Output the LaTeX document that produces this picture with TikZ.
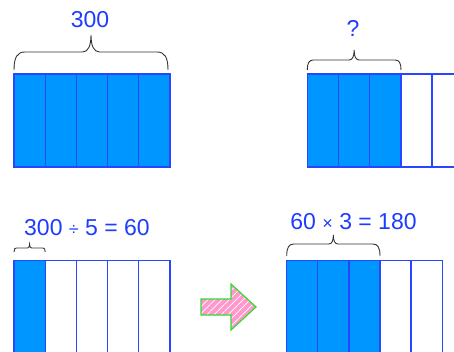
\documentclass[tikz,border=0pt]{standalone}
\usepackage{fontspec}
\setmainfont{Liberation Sans}
\usetikzlibrary{patterns.meta,calc}

\definecolor{barblue}{RGB}{0,150,255}
\definecolor{lineblue}{RGB}{40,70,255}
\definecolor{textblue}{RGB}{30,60,255}
\definecolor{arrowpink}{RGB}{255,153,204}
\definecolor{arrowgreen}{RGB}{50,220,50}

\tikzset{
  cell/.style={draw=lineblue,line width=1.3pt},
  shaded/.style={cell,fill=barblue},
  numtext/.style={text=textblue,font=\fontsize{23}{25}\selectfont,inner sep=0pt},
  bracket/.style={draw=black!80,line width=0.9pt},
}

% brace over a bar: left x, right x, bottom y, flat y, tip y
\newcommand{\partbrace}[5]{%
  \pgfmathsetmacro{\bend}{0.6*(#3-#4)}
  \pgfmathsetmacro{\bmid}{(#1+#2)/2}
  \pgfmathsetmacro{\btip}{0.5*(#4-#5)}
  \draw[bracket] (#1,#3) .. controls (#1,{#4+0.3*(#3-#4)}) and ({#1+0.3*\bend},#4) .. ({#1+\bend},#4)
    -- ({\bmid-\btip},#4) .. controls ({\bmid-0.3*\btip},#4) and (\bmid,{#4-0.4*(#4-#5)}) .. (\bmid,#5)
    .. controls (\bmid,{#4-0.4*(#4-#5)}) and ({\bmid+0.3*\btip},#4) .. ({\bmid+\btip},#4)
    -- ({#2-\bend},#4) .. controls ({#2-0.3*\bend},#4) and (#2,{#4+0.3*(#3-#4)}) .. (#2,#3);
}

\begin{document}
\begin{tikzpicture}[x=1pt,y=-1pt]
    \useasboundingbox (0,0) rectangle (454,352);
    \clip (0,0) rectangle (454,352);

    % whole: 300
    \foreach \i in {0,...,4}
        \draw[shaded] ({14+31.2*\i},74) rectangle ++(31.2,93);
    \partbrace{14}{168}{70}{52}{35}
    \node[numtext] (total) at (90,20) {300};

    % three parts: ?
    \foreach \i in {0,1,2}
        \draw[shaded] ({307.3+31.2*\i},74) rectangle ++(31.2,93);
    \foreach \i in {3,4}
        \draw[cell] ({307.3+31.2*\i},74) rectangle ++(31.2,93);
    \partbrace{307.3}{401}{70}{60}{50}
    \node[numtext] (query) at (353,28) {?};

    % one part
    \draw[shaded] (14,260.7) rectangle ++(31.2,100);
    \foreach \i in {1,...,4}
        \draw[cell] ({14+31.2*\i},260.7) rectangle ++(31.2,100);
    \partbrace{14}{45.2}{252}{248}{244}
    \node[numtext] (share) at (87,228) {300 {\fontsize{18}{18}\selectfont ÷} 5 = 60};

    % three parts again
    \foreach \i in {0,1,2}
        \draw[shaded] ({286.7+31.1*\i},260.7) rectangle ++(31.1,100);
    \foreach \i in {3,4}
        \draw[cell] ({286.7+31.1*\i},260.7) rectangle ++(31.1,100);
    \partbrace{286.7}{380}{256}{244}{235}
    \node[numtext] (result) at (353.5,222) {60 {\fontsize{18}{18}\selectfont ×} 3 = 180};

    % arrow
    \draw[arrowgreen,line width=1.2pt,preaction={fill=arrowpink},
          pattern={Lines[angle=45,distance=5pt,line width=0.7pt]},pattern color=white]
        (201,299) -- (231,299) -- (231,284) -- (256,307) -- (231,330) -- (231,315) -- (201,315) -- cycle;
\end{tikzpicture}
\end{document}
